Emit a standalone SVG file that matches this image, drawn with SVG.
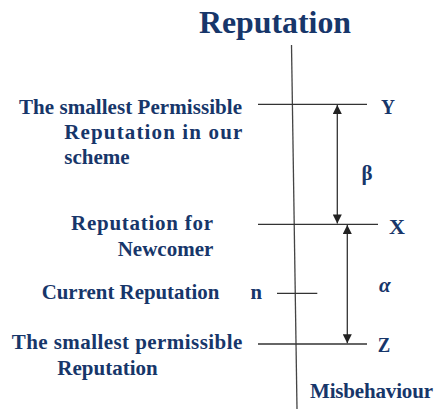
<svg xmlns="http://www.w3.org/2000/svg" width="434" height="410" viewBox="0 0 434 410">
<style>
.t{font-family:"Liberation Serif","Times New Roman",serif;font-weight:bold;fill:#17366a;font-size:21px}
.ttl{font-size:32px}
.ln{stroke:#333;stroke-width:1.3;fill:none}
.ax{stroke:#444;stroke-width:1.3;fill:none}
</style>
<defs>
<marker id="ah" viewBox="0 0 10 10" refX="10" refY="5" markerWidth="10" markerHeight="9" markerUnits="userSpaceOnUse" orient="auto-start-reverse">
<path d="M0,0 L10,5 L0,10 z" fill="#222"/>
</marker>
</defs>
<rect width="434" height="410" fill="#fff"/>
<text class="t ttl" x="199" y="33" textLength="152" lengthAdjust="spacingAndGlyphs">Reputation</text>
<g id="connectors">
<line class="ax" x1="291.5" y1="45" x2="297" y2="409"/>
<line class="ln" x1="337.3" y1="105" x2="337.3" y2="223.5" marker-start="url(#ah)" marker-end="url(#ah)"/>
<line class="ln" x1="347.3" y1="225" x2="347.3" y2="343.3" marker-start="url(#ah)" marker-end="url(#ah)"/>
</g>
<g id="Y">
<line class="ln" x1="258" y1="104.3" x2="367" y2="104.3"/>
<text class="t" x="381" y="114" textLength="14" lengthAdjust="spacingAndGlyphs">Y</text>
<text class="t" x="19" y="114.3" textLength="223" lengthAdjust="spacing">The smallest Permissible</text>
<text class="t" x="64.3" y="139" textLength="178" lengthAdjust="spacing">Reputation in our</text>
<text class="t" x="64.3" y="164.3">scheme</text>
</g>
<g id="X">
<line class="ln" x1="258" y1="224.3" x2="378" y2="224.3"/>
<text class="t" x="389" y="234" textLength="16" lengthAdjust="spacingAndGlyphs">X</text>
<text class="t" x="71" y="230" textLength="142" lengthAdjust="spacing">Reputation for</text>
<text class="t" x="213.3" y="256" text-anchor="end">Newcomer</text>
</g>
<g id="beta">
<text class="t" x="361.5" y="180" font-size="22">β</text>
</g>
<g id="alpha">
<text class="t" x="379" y="291.5" font-style="italic">α</text>
</g>
<g id="n">
<line class="ln" x1="277" y1="293.3" x2="317.3" y2="293.3"/>
<text class="t" x="250.5" y="299.3" textLength="11.5" lengthAdjust="spacingAndGlyphs">n</text>
<text class="t" x="41.7" y="299.3" textLength="177.6" lengthAdjust="spacingAndGlyphs">Current Reputation</text>
</g>
<g id="Z">
<line class="ln" x1="258" y1="344" x2="367" y2="344"/>
<text class="t" x="377.7" y="351.7" textLength="12.5" lengthAdjust="spacingAndGlyphs">Z</text>
<text class="t" x="11.7" y="349.3" textLength="230.6" lengthAdjust="spacing">The smallest permissible</text>
<text class="t" x="57.3" y="375">Reputation</text>
</g>
<g id="misbehaviour">
<text class="t" x="310" y="398.3" textLength="123" lengthAdjust="spacing">Misbehaviour</text>
</g>
</svg>
